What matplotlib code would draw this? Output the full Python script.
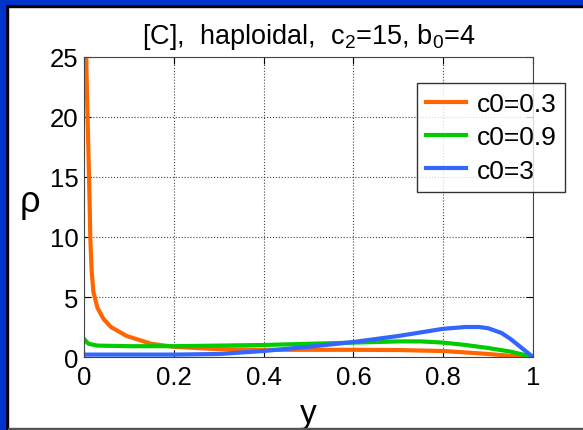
import matplotlib
matplotlib.use('Agg')
import matplotlib.pyplot as plt
from matplotlib.patches import Rectangle

plt.rcParams['font.family'] = ['Liberation Sans', 'DejaVu Sans']
plt.rcParams['mathtext.fontset'] = 'custom'
plt.rcParams['mathtext.rm'] = 'Liberation Sans'

# values
y_orange = [0.0, 0.002, 0.007, 0.012, 0.014, 0.017, 0.021, 0.03, 0.043, 0.06, 0.095, 0.15, 0.2, 0.3, 0.4,
            0.5, 0.6, 0.7, 0.8, 0.85, 0.9, 0.95, 1.0]
rho_orange = [40.0, 30.0, 21.5, 13.7, 10.0, 7.2, 5.4, 4.1, 3.2, 2.5, 1.75, 1.1, 0.85, 0.65, 0.6,
              0.6, 0.6, 0.58, 0.5, 0.38, 0.25, 0.1, 0.0]

y_green = [0.0, 0.01, 0.03, 0.1, 0.2, 0.3, 0.4, 0.5, 0.6, 0.7, 0.75, 0.8, 0.85, 0.9, 0.95, 1.0]
rho_green = [1.5, 1.1, 0.95, 0.9, 0.9, 0.95, 1.0, 1.1, 1.2, 1.3, 1.3, 1.2, 1.0, 0.75, 0.45, 0.0]

y_blue = [0.0, 0.1, 0.2, 0.3, 0.4, 0.5, 0.6, 0.7, 0.75, 0.8, 0.85, 0.88, 0.9, 0.93, 0.95, 0.97, 1.0]
rho_blue = [0.2, 0.2, 0.2, 0.25, 0.5, 0.85, 1.25, 1.75, 2.05, 2.35, 2.5, 2.5, 2.4, 2.0, 1.5, 0.9, 0.0]

labels = ['c0=0.3', 'c0=0.9', 'c0=3']
colors = ['#ff6600', '#00cc00', '#3366ff']

fig = plt.figure(figsize=(5.83, 4.31), dpi=100)
W, H = 583, 431

# slide frame: blue band top/left with black edge
def px_rect(x, y, w, h, color):
    fig.patches.append(Rectangle((x / W, 1 - (y + h) / H), w / W, h / H,
                                 transform=fig.transFigure, color=color, zorder=0))

px_rect(0, 0, W, 8, 'black')
px_rect(0, 0, 8, H, 'black')
px_rect(0, 0, W, 5, '#0033cc')
px_rect(0, 0, 5, H, '#0033cc')
px_rect(8, 429, W - 8, 1.5, '#555555')

ax = fig.add_axes([84 / W, 1 - 358 / H, 449 / W, 300 / H])
ax.plot(y_orange, rho_orange, color=colors[0], lw=3, label=labels[0])
ax.plot(y_green, rho_green, color=colors[1], lw=3, label=labels[1])
ax.plot(y_blue, rho_blue, color=colors[2], lw=3, label=labels[2])

ax.set_xlim(0, 1)
ax.set_ylim(0, 25)
ax.set_xticks([0, 0.2, 0.4, 0.6, 0.8, 1])
ax.set_xticklabels(['0', '0.2', '0.4', '0.6', '0.8', '1'])
ax.set_yticks([0, 5, 10, 15, 20, 25])
ax.tick_params(direction='in', top=True, right=True, labelsize=18.5, length=5)
ax.tick_params(axis='x', pad=6)
ax.tick_params(axis='y', pad=4)
ax.grid(True, linestyle=':', color='#444444', linewidth=0.8)
for s in ax.spines.values():
    s.set_color('#444444')

ax.set_xlabel('y', fontsize=24)
ax.xaxis.set_label_coords(0.5, -0.135)
ax.set_ylabel('ρ', fontsize=26, rotation=0)
ax.yaxis.set_label_coords(-0.12, 0.46)
ax.set_title('[C],  haploidal,  c$_2$=15, b$_0$=4', fontsize=19.5, pad=10)

leg = ax.legend(loc='upper left', bbox_to_anchor=(417 / W, 1 - 84 / H), bbox_transform=fig.transFigure,
                fontsize=19, frameon=True, fancybox=False, handlelength=1.5, borderpad=0.35,
                labelspacing=0.35, handletextpad=0.4, borderaxespad=0)
leg.get_frame().set_edgecolor('black')
leg.get_frame().set_linewidth(1.0)

fig.savefig('out.png', dpi=100)
